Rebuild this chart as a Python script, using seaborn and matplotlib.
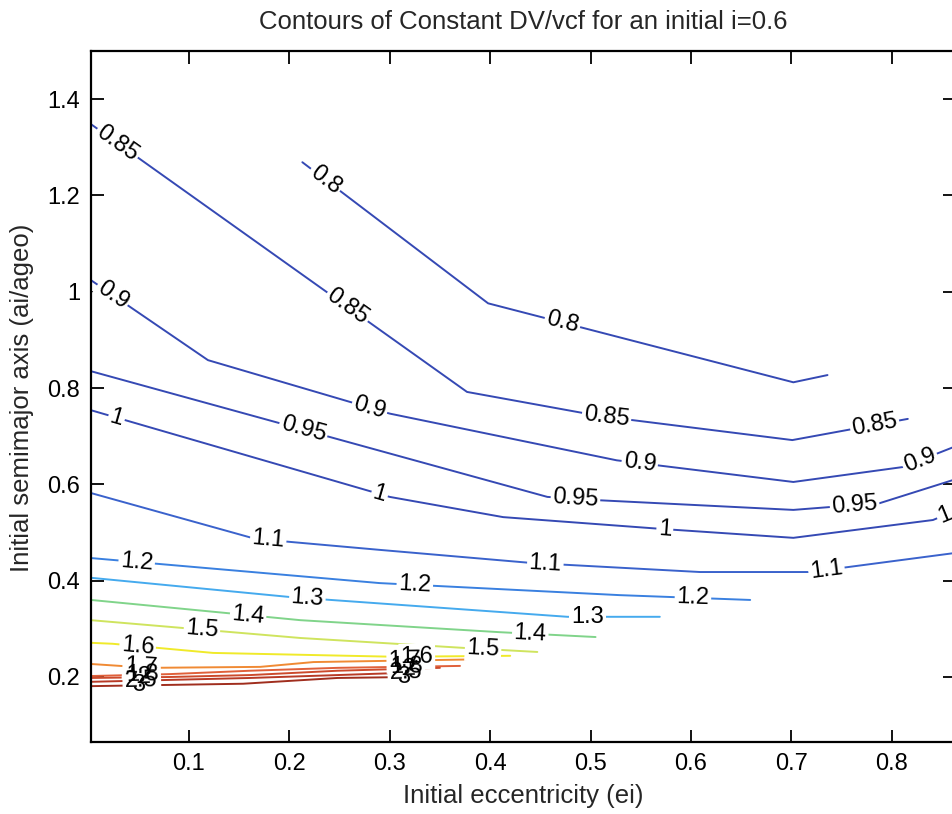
import numpy as np
import matplotlib
matplotlib.use('Agg')
import matplotlib.pyplot as plt
import seaborn as sns

# Contour levels (DV/vcf) and their label strings
levels = [0.8, 0.85, 0.9, 0.95, 1, 1.1, 1.2, 1.3, 1.4, 1.5, 1.6, 1.7, 1.8, 2, 2.5, 3]
level_text = ['0.8', '0.85', '0.9', '0.95', '1', '1.1', '1.2', '1.3',
              '1.4', '1.5', '1.6', '1.7', '1.8', '2', '2.5', '3']

# Contour polylines: x = initial eccentricity, y = ai/ageo
x_080 = [0.213, 0.398, 0.702, 0.736]
y_080 = [1.269, 0.976, 0.812, 0.827]
x_085 = [0.0025, 0.377, 0.509, 0.701, 0.816]
y_085 = [1.348, 0.792, 0.742, 0.692, 0.736]
x_090 = [0.0025, 0.119, 0.300, 0.526, 0.702, 0.811, 0.861]
y_090 = [1.024, 0.858, 0.747, 0.650, 0.605, 0.636, 0.677]
x_095 = [0.0025, 0.457, 0.509, 0.702, 0.788, 0.861]
y_095 = [0.835, 0.574, 0.567, 0.547, 0.561, 0.609]
x_100 = [0.0025, 0.300, 0.413, 0.574, 0.702, 0.841, 0.861]
y_100 = [0.754, 0.574, 0.532, 0.507, 0.489, 0.526, 0.543]
x_110 = [0.0025, 0.166, 0.290, 0.440, 0.609, 0.719, 0.861]
y_110 = [0.582, 0.487, 0.464, 0.437, 0.418, 0.418, 0.457]
x_120 = [0.0025, 0.290, 0.529, 0.659]
y_120 = [0.447, 0.395, 0.370, 0.360]
x_130 = [0.0025, 0.201, 0.477, 0.569]
y_130 = [0.406, 0.366, 0.325, 0.325]
x_140 = [0.0025, 0.211, 0.410, 0.505]
y_140 = [0.360, 0.318, 0.293, 0.283]
x_150 = [0.0025, 0.211, 0.377, 0.447]
y_150 = [0.318, 0.281, 0.260, 0.252]
x_160 = [0.0025, 0.024, 0.124, 0.305, 0.420]
y_160 = [0.271, 0.269, 0.250, 0.242, 0.244]
x_170 = [0.0025, 0.061, 0.171, 0.224, 0.397]
y_170 = [0.227, 0.219, 0.221, 0.231, 0.237]
x_180 = [0.0025, 0.081, 0.161, 0.248, 0.370]
y_180 = [0.202, 0.206, 0.213, 0.219, 0.223]
x_200 = [0.0025, 0.081, 0.161, 0.248, 0.350]
y_200 = [0.198, 0.200, 0.204, 0.213, 0.219]
x_250 = [0.0025, 0.161, 0.248, 0.333]
y_250 = [0.190, 0.198, 0.204, 0.210]
x_300 = [0.0025, 0.154, 0.248, 0.320]
y_300 = [0.181, 0.186, 0.198, 0.200]

# x positions of the inline labels on each contour
lab_080 = [0.236, 0.472]
lab_085 = [0.029, 0.258, 0.516, 0.783]
lab_090 = [0.024, 0.280, 0.549, 0.828]
lab_095 = [0.214, 0.485, 0.763]
lab_100 = [0.028, 0.290, 0.574, 0.853]
lab_110 = [0.179, 0.455, 0.735]
lab_120 = [0.048, 0.325, 0.602]
lab_130 = [0.218, 0.497]
lab_140 = [0.159, 0.440]
lab_150 = [0.113, 0.393]
lab_160 = [0.049, 0.327]
lab_170 = [0.052, 0.315]
lab_180 = [0.054, 0.317]
lab_200 = [0.056, 0.319]
lab_250 = [0.052, 0.316]
lab_300 = [0.050, 0.314]

xs_all = [x_080, x_085, x_090, x_095, x_100, x_110, x_120, x_130,
          x_140, x_150, x_160, x_170, x_180, x_200, x_250, x_300]
ys_all = [y_080, y_085, y_090, y_095, y_100, y_110, y_120, y_130,
          y_140, y_150, y_160, y_170, y_180, y_200, y_250, y_300]
labs_all = [lab_080, lab_085, lab_090, lab_095, lab_100, lab_110, lab_120, lab_130,
            lab_140, lab_150, lab_160, lab_170, lab_180, lab_200, lab_250, lab_300]

# line colours (jet-like, as scanned)
line_colors = ['#3549b4', '#3549b4', '#3549b4', '#3549b4', '#3549b4', '#3a62cc',
               '#3a80e0', '#45aaee', '#80d48a', '#cfe45e', '#f0ea2a', '#f08a34',
               '#e0603a', '#cc4a2c', '#b83a26', '#a02e1e']

fonts = ['Liberation Sans', 'DejaVu Sans']

sns.set_style('ticks')
plt.rcParams['font.family'] = fonts

fig = plt.figure(figsize=(9.53, 8.14), dpi=100)
ax = fig.add_axes([91 / 953, 1 - 742 / 814, 864 / 953, 691 / 814])
ax.set_xlim(0.0025, 0.863)
ax.set_ylim(0.065, 1.5)

for xs, ys, c in zip(xs_all, ys_all, line_colors):
    sns.lineplot(x=xs, y=ys, sort=False, estimator=None, color=c,
                 linewidth=1.4, legend=False, ax=ax, zorder=2)


def label_angle(xs, ys, x0):
    i = int(np.clip(np.searchsorted(xs, x0), 1, len(xs) - 1))
    p1 = ax.transData.transform((xs[i - 1], ys[i - 1]))
    p2 = ax.transData.transform((xs[i], ys[i]))
    return np.degrees(np.arctan2(p2[1] - p1[1], p2[0] - p1[0]))


# inline labels: white patch first to break the line, then the black text
# (kept below the spines, zorder 2.5, so the frame stays unbroken)
for xs, ys, labs, txt in zip(xs_all, ys_all, labs_all, level_text):
    for x0 in labs:
        y0 = np.interp(x0, xs, ys)
        ang = label_angle(xs, ys, x0)
        ax.text(x0, y0, txt, fontsize=17, color='white', ha='center', va='center',
                rotation=ang, rotation_mode='anchor', zorder=2.2,
                bbox=dict(boxstyle='square,pad=0.08', fc='white', ec='none'))
for xs, ys, labs, txt in zip(xs_all, ys_all, labs_all, level_text):
    for x0 in labs:
        y0 = np.interp(x0, xs, ys)
        ang = label_angle(xs, ys, x0)
        ax.text(x0, y0, txt, fontsize=17, color='black', ha='center', va='center',
                rotation=ang, rotation_mode='anchor', zorder=2.3)

ax.set_xticks([0.1, 0.2, 0.3, 0.4, 0.5, 0.6, 0.7, 0.8])
ax.set_yticks([0.2, 0.4, 0.6, 0.8, 1.0, 1.2, 1.4])
ax.set_xticklabels(['0.1', '0.2', '0.3', '0.4', '0.5', '0.6', '0.7', '0.8'])
ax.set_yticklabels(['0.2', '0.4', '0.6', '0.8', '1', '1.2', '1.4'])
ax.tick_params(direction='in', top=True, right=True, length=9, width=1.3,
               labelsize=17, colors='black', pad=8)
for s in ax.spines.values():
    s.set_visible(True)
    s.set_linewidth(1.6)
    s.set_color('black')
    s.set_zorder(2.5)

fig.text(523 / 953, 1 - 22 / 814, 'Contours of Constant DV/vcf for an initial i=0.6',
         ha='center', va='center', fontsize=18.5)
fig.text(523 / 953, 1 - 796 / 814, 'Initial eccentricity (ei)',
         ha='center', va='center', fontsize=18.5)
fig.text(22 / 953, 1 - 398 / 814, 'Initial semimajor axis (ai/ageo)',
         ha='center', va='center', rotation=90, fontsize=18.5)

fig.savefig('out.png', dpi=100, facecolor='white')
